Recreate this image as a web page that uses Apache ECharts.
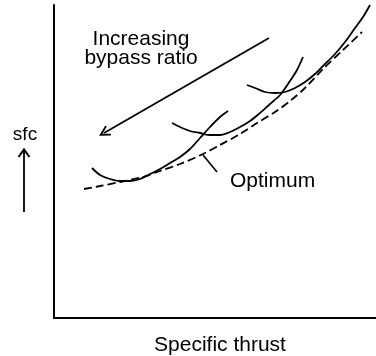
<!DOCTYPE html>
<html>
<head>
<meta charset="utf-8">
<script src="https://cdn.jsdelivr.net/npm/echarts@6/dist/echarts.min.js"></script>
<style>
html,body{margin:0;padding:0;background:#fff;}
#chart{width:376px;height:356px;}
</style>
</head>
<body>
<div id="chart"></div>
<script>
// Schematic units: x = specific thrust, y = sfc (arbitrary units)
var lowPR = [[38,150],[46,143],[56,139],[66,137],[76,137],[86,139],[96,144],[106,149],[116,155],[126,161],[136,169],[146,180],[156,191],[166,201],[174,207]];
var midPR = [[118,195],[126,191],[136,187],[146,185],[156,183],[166,183],[176,186],[186,191],[196,197],[206,205],[216,214],[226,223],[236,237],[243,248],[249,261]];
var highPR = [[193,233],[201,230],[211,226],[221,225],[231,226],[241,230],[251,236],[261,244],[271,254],[281,264],[291,276],[301,290],[309,301],[316,313]];
var optimum = [[30,129],[46,132],[66,136],[89,141],[106,147],[126,154],[149,164],[166,173],[186,184],[203,195],[221,206],[236,217],[251,230],[269,249],[289,268],[308,286]];
var optimumLeader = [[149,163],[163,146]];
var bypassArrow = [[215,280],[50,185]];
var xName = 'Specific thrust';
var yName = 'sfc';
var arrowText = 'Increasing\nbypass ratio';
var optText = 'Optimum';

var chart = echarts.init(document.getElementById('chart'), null, {renderer:'canvas'});
var FONT = 'Liberation Sans, Arial, sans-serif';
var solid = {color:'#000', width:1.8};
function curve(d){
  return {type:'line', data:d, showSymbol:false, smooth:0.3, silent:true,
    lineStyle:solid, z:3};
}
var chevron = 'path://M6,0 L12,10.4 L10.3,11.4 L6,4 L1.7,11.4 L0,10.4 Z';
chart.setOption({
  animation:false,
  backgroundColor:'#fff',
  grid:{left:54, right:0, top:5, bottom:38, containLabel:false, outerBoundsMode:'none'},
  xAxis:{type:'value', min:0, max:322,
    axisLine:{show:true, lineStyle:{color:'#000', width:2}},
    axisTick:{show:false}, axisLabel:{show:false}, splitLine:{show:false},
    name:xName, nameLocation:'middle', nameGap:16.5,
    nameTextStyle:{color:'#000', fontSize:21, fontFamily:FONT, verticalAlign:'top', padding:[0,0,0,10]}},
  yAxis:{type:'value', min:0, max:313,
    axisLine:{show:true, lineStyle:{color:'#000', width:2}},
    axisTick:{show:false}, axisLabel:{show:false}, splitLine:{show:false}},
  series:[
    curve(lowPR), curve(midPR), curve(highPR),
    {type:'line', data:optimum, showSymbol:false, smooth:0.3, silent:true,
      lineStyle:{color:'#000', width:1.8, type:[8,4]}, z:2},
    {type:'line', data:optimumLeader, showSymbol:false, silent:true,
      lineStyle:{color:'#000', width:1.6}},
    {type:'lines', coordinateSystem:'cartesian2d', silent:true,
      symbol:['none', chevron], symbolSize:[12,11.4], symbolOffset:[0,[0,5]],
      lineStyle:{color:'#000', width:1.8, opacity:1, curveness:0},
      data:[{coords:bypassArrow}]}
  ],
  graphic:[
    {type:'text', x:141, y:30, style:{text:arrowText, fill:'#000', font:'21px ' + FONT, textAlign:'center', textVerticalAlign:'top', lineHeight:19}},
    {type:'text', x:230, y:170.5, style:{text:optText, fill:'#000', font:'21px ' + FONT, textAlign:'left', textVerticalAlign:'top'}},
    {type:'text', x:25, y:125, style:{text:yName, fill:'#000', font:'19px ' + FONT, textAlign:'center', textVerticalAlign:'top'}},
    {type:'line', shape:{x1:24, y1:150, x2:24, y2:212}, style:{stroke:'#000', lineWidth:1.8}},
    {type:'polyline', shape:{points:[[18.5,157],[24,149.5],[29.5,157]]}, style:{stroke:'#000', lineWidth:2, fill:null}}
  ]
});
</script>
</body>
</html>
